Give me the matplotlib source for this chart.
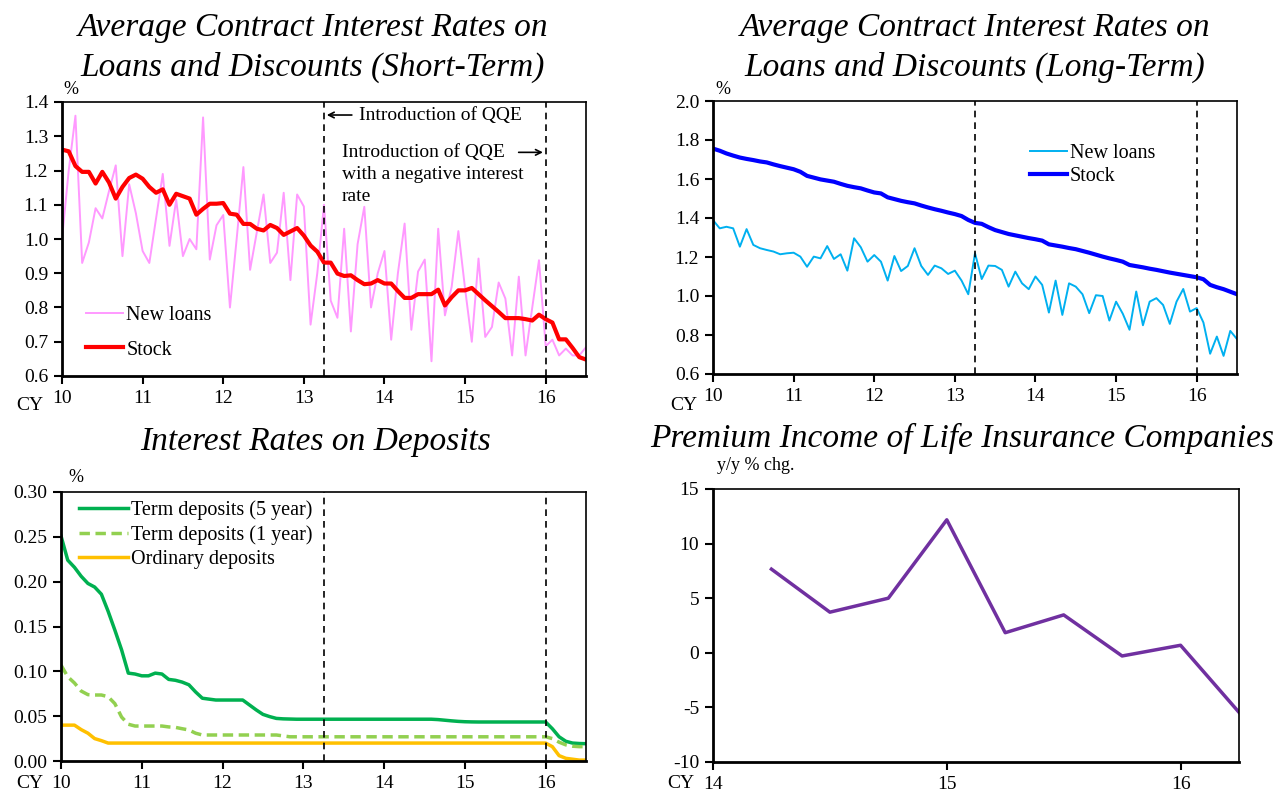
import matplotlib
matplotlib.use("Agg")
import matplotlib.pyplot as plt
import numpy as np

plt.rcParams['font.family'] = ['Liberation Serif', 'DejaVu Serif']
plt.rcParams['axes.unicode_minus'] = False

# ---------------- data ----------------
# monthly, Jan 2010 (CY10) .. Jul 2016
months = [10 + i / 12 for i in range(79)]

short_new = [1.00, 1.20, 1.36, 0.93, 0.99, 1.09, 1.06, 1.14, 1.215, 0.95,
             1.16, 1.075, 0.965, 0.93, 1.06, 1.19, 0.98, 1.115, 0.95, 1.00,
             0.97, 1.355, 0.94, 1.04, 1.07, 0.80, 1.00, 1.21, 0.91, 1.02,
             1.13, 0.93, 0.96, 1.135, 0.88, 1.13, 1.095, 0.75, 0.90, 1.10,
             0.82, 0.77, 1.03, 0.73, 0.985, 1.094, 0.80, 0.90, 0.965, 0.706,
             0.90, 1.045, 0.735, 0.905, 0.94, 0.643, 1.03, 0.777, 0.86, 1.023,
             0.855, 0.70, 0.943, 0.714, 0.743, 0.873, 0.826, 0.66, 0.89, 0.66,
             0.80, 0.938, 0.687, 0.706, 0.66, 0.68, 0.66, 0.66, 0.684]
short_stock = [1.261, 1.256, 1.213, 1.196, 1.196, 1.162, 1.196, 1.165, 1.118, 1.152,
               1.178, 1.188, 1.176, 1.152, 1.135, 1.145, 1.10, 1.132, 1.125, 1.118,
               1.071, 1.088, 1.103, 1.103, 1.105, 1.074, 1.071, 1.044, 1.044, 1.03,
               1.025, 1.041, 1.032, 1.012, 1.022, 1.032, 1.01, 0.981, 0.963, 0.931,
               0.931, 0.899, 0.892, 0.894, 0.88, 0.868, 0.87, 0.88, 0.87, 0.87,
               0.848, 0.828, 0.828, 0.839, 0.839, 0.839, 0.852, 0.806, 0.83, 0.85,
               0.85, 0.857, 0.839, 0.821, 0.804, 0.787, 0.769, 0.769, 0.769, 0.766,
               0.762, 0.779, 0.766, 0.756, 0.707, 0.707, 0.682, 0.655, 0.648]

long_new = [1.389, 1.347, 1.355, 1.347, 1.253, 1.343, 1.262, 1.245, 1.236, 1.228,
            1.214, 1.219, 1.222, 1.202, 1.150, 1.202, 1.193, 1.256, 1.19, 1.214,
            1.13, 1.296, 1.25, 1.176, 1.21, 1.176, 1.079, 1.205, 1.128, 1.154,
            1.245, 1.154, 1.108, 1.156, 1.142, 1.113, 1.13, 1.079, 1.009, 1.219,
            1.087, 1.156, 1.154, 1.134, 1.048, 1.125, 1.065, 1.035, 1.10, 1.057,
            0.915, 1.079, 0.903, 1.065, 1.048, 1.009, 0.912, 1.004, 1.0, 0.874,
            0.971, 0.909, 0.827, 1.023, 0.85, 0.971, 0.989, 0.954, 0.857, 0.971,
            1.036, 0.92, 0.938, 0.864, 0.704, 0.792, 0.693, 0.821, 0.779]
long_stock = [1.756, 1.745, 1.731, 1.72, 1.71, 1.703, 1.697, 1.69, 1.685, 1.675,
              1.666, 1.658, 1.65, 1.637, 1.616, 1.607, 1.598, 1.592, 1.586, 1.575,
              1.565, 1.558, 1.552, 1.541, 1.531, 1.526, 1.506, 1.497, 1.488, 1.481,
              1.475, 1.464, 1.454, 1.445, 1.437, 1.428, 1.42, 1.41, 1.39, 1.375,
              1.37, 1.353, 1.338, 1.328, 1.318, 1.311, 1.304, 1.297, 1.291, 1.284,
              1.265, 1.259, 1.253, 1.246, 1.24, 1.231, 1.222, 1.212, 1.202, 1.193,
              1.185, 1.176, 1.159, 1.153, 1.147, 1.14, 1.134, 1.127, 1.12, 1.114,
              1.108, 1.102, 1.096, 1.086, 1.057, 1.045, 1.035, 1.022, 1.009]

dep_5y = [0.251, 0.224, 0.216, 0.206, 0.198, 0.194, 0.186, 0.167, 0.146, 0.124,
          0.098, 0.097, 0.095, 0.095, 0.098, 0.097, 0.091, 0.090, 0.088, 0.085,
          0.077, 0.070, 0.069, 0.068, 0.068, 0.068, 0.068, 0.068, 0.0625, 0.057,
          0.052, 0.0495, 0.0475, 0.047, 0.0468, 0.0466, 0.0466, 0.0466, 0.0466, 0.0466,
          0.0466, 0.0466, 0.0466, 0.0466, 0.0466, 0.0466, 0.0466, 0.0466, 0.0466, 0.0466,
          0.0466, 0.0466, 0.0466, 0.0466, 0.0466, 0.0466, 0.0462, 0.0455, 0.0448, 0.0442,
          0.0438, 0.0436, 0.0435, 0.0435, 0.0435, 0.0435, 0.0435, 0.0435, 0.0435, 0.0435,
          0.0435, 0.0435, 0.0435, 0.036, 0.027, 0.022, 0.020, 0.0195, 0.0193]
dep_1y = [0.107, 0.094, 0.087, 0.078, 0.074, 0.0736, 0.0736, 0.0717, 0.064, 0.049,
          0.041, 0.039, 0.039, 0.039, 0.039, 0.039, 0.038, 0.0375, 0.036, 0.0346,
          0.031, 0.029, 0.029, 0.029, 0.029, 0.029, 0.029, 0.029, 0.029, 0.029,
          0.029, 0.029, 0.029, 0.028, 0.027, 0.027, 0.027, 0.027, 0.027, 0.027,
          0.027, 0.027, 0.027, 0.027, 0.027, 0.027, 0.027, 0.027, 0.027, 0.027,
          0.027, 0.027, 0.027, 0.027, 0.027, 0.027, 0.027, 0.027, 0.027, 0.027,
          0.027, 0.027, 0.027, 0.027, 0.027, 0.027, 0.027, 0.027, 0.027, 0.027,
          0.027, 0.027, 0.027, 0.025, 0.021, 0.018, 0.0165, 0.016, 0.016]
dep_ord = [0.040, 0.040, 0.040, 0.035, 0.031, 0.025, 0.0227, 0.020, 0.020, 0.020,
           0.020, 0.020, 0.020, 0.020, 0.020, 0.020, 0.020, 0.020, 0.020, 0.020,
           0.020, 0.020, 0.020, 0.020, 0.020, 0.020, 0.020, 0.020, 0.020, 0.020,
           0.020, 0.020, 0.020, 0.020, 0.020, 0.020, 0.020, 0.020, 0.020, 0.020,
           0.020, 0.020, 0.020, 0.020, 0.020, 0.020, 0.020, 0.020, 0.020, 0.020,
           0.020, 0.020, 0.020, 0.020, 0.020, 0.020, 0.020, 0.020, 0.020, 0.020,
           0.020, 0.020, 0.020, 0.020, 0.020, 0.020, 0.020, 0.020, 0.020, 0.020,
           0.020, 0.020, 0.020, 0.016, 0.006, 0.003, 0.002, 0.001, 0.001]

prem_x = [14.25, 14.5, 14.75, 15.0, 15.25, 15.5, 15.75, 16.0, 16.25]
prem_y = [7.66, 3.72, 5.0, 12.18, 1.84, 3.47, -0.29, 0.69, -5.45]

year_ticks = [10, 11, 12, 13, 14, 15, 16]
prem_ticks = [14, 15, 16]
qqe_dates = [13.25, 16.0]

# ---------------- figure ----------------
W, H = 1274, 794
fig = plt.figure(figsize=(W / 100, H / 100), dpi=100)


def px_axes(l, t, r, b):
    return fig.add_axes([l / W, 1 - b / H, (r - l) / W, (b - t) / H])


def style(ax):
    for s in ['left', 'bottom']:
        ax.spines[s].set_linewidth(2.0)
    for s in ['top', 'right']:
        ax.spines[s].set_linewidth(1.2)
    ax.tick_params(axis='both', direction='out', length=6, width=1.5,
                   labelsize=14, pad=4)


def ftext(x, y, s, **kw):
    fig.text(x / W, 1 - y / H, s, **kw)


TFS = 24
title_kw = dict(ha='center', va='center', fontsize=TFS, style='italic')
AFS = 14

# --- top left ---
ax1 = px_axes(62, 102, 586, 376)
ax1.plot(months, short_new, color='#FF99FF', lw=1.4, label='New loans')
ax1.plot(months, short_stock, color='#FF0000', lw=3.0, label='Stock')
for d in qqe_dates:
    ax1.axvline(d, color='black', ls=(0, (4, 3)), lw=1.2)
ax1.set_xlim(10, 16.5)
ax1.set_ylim(0.6, 1.4)
ax1.set_xticks(year_ticks)
ax1.set_yticks(np.arange(0.6, 1.41, 0.1))
ax1.yaxis.set_major_formatter(matplotlib.ticker.FormatStrFormatter('%.1f'))
style(ax1)
ax1.legend(loc='lower left', bbox_to_anchor=(0.011, -0.006), frameon=False,
           fontsize=14.5, handlelength=1.85, handletextpad=0.15, labelspacing=0.75)
ax1.annotate('', xy=(13.25, 1.362), xytext=(13.63, 1.362),
             arrowprops=dict(arrowstyle='->', color='black', lw=1.2))
ax1.text(13.68, 1.362, 'Introduction of QQE', fontsize=AFS, va='center')
ax1.annotate('', xy=(16.0, 1.253), xytext=(15.63, 1.253),
             arrowprops=dict(arrowstyle='->', color='black', lw=1.2))
ax1.text(13.47, 1.253, 'Introduction of QQE', fontsize=AFS, va='center')
ax1.text(13.47, 1.189, 'with a negative interest', fontsize=AFS, va='center')
ax1.text(13.47, 1.125, 'rate', fontsize=AFS, va='center')
ftext(313, 28, 'Average Contract Interest Rates on', **title_kw)
ftext(313, 67, 'Loans and Discounts (Short-Term)', **title_kw)
ftext(63, 90, '%', fontsize=13, ha='left', va='center')
ftext(30, 405, 'CY', fontsize=14, ha='center', va='center')

# --- top right ---
ax2 = px_axes(713, 101, 1237, 374)
ax2.plot(months, long_new, color='#00B0F0', lw=1.4, label='New loans')
ax2.plot(months, long_stock, color='#0000FF', lw=3.0, label='Stock')
for d in qqe_dates:
    ax2.axvline(d, color='black', ls=(0, (4, 3)), lw=1.2)
ax2.set_xlim(10, 16.5)
ax2.set_ylim(0.6, 2.0)
ax2.set_xticks(year_ticks)
ax2.set_yticks(np.arange(0.6, 2.01, 0.2))
ax2.yaxis.set_major_formatter(matplotlib.ticker.FormatStrFormatter('%.1f'))
style(ax2)
ax2.legend(loc='upper left', bbox_to_anchor=(0.57, 0.91), frameon=False,
           fontsize=14.5, handlelength=1.85, handletextpad=0.15, labelspacing=0.2)
ftext(975, 28, 'Average Contract Interest Rates on', **title_kw)
ftext(975, 67, 'Loans and Discounts (Long-Term)', **title_kw)
ftext(715, 90, '%', fontsize=13, ha='left', va='center')
ftext(684, 405, 'CY', fontsize=14, ha='center', va='center')

# --- bottom left ---
ax3 = px_axes(61, 492, 586, 761)
ax3.plot(months, dep_5y, color='#00B050', lw=2.5, label='Term deposits (5 year)')
ax3.plot(months, dep_1y, color='#92D050', lw=2.5, ls=(0, (3, 1.6)),
         label='Term deposits (1 year)')
ax3.plot(months, dep_ord, color='#FFC000', lw=2.5, label='Ordinary deposits')
for d in qqe_dates:
    ax3.axvline(d, color='black', ls=(0, (4, 3)), lw=1.2)
ax3.set_xlim(10, 16.5)
ax3.set_ylim(0, 0.30)
ax3.set_xticks(year_ticks)
ax3.set_yticks(np.arange(0, 0.301, 0.05))
ax3.yaxis.set_major_formatter(matplotlib.ticker.FormatStrFormatter('%.2f'))
style(ax3)
ax3.legend(loc='upper left', bbox_to_anchor=(0.0, 1.035), frameon=False,
           fontsize=14.5, handlelength=2.45, handletextpad=0.15, labelspacing=0.25)
ftext(316, 442, 'Interest Rates on Deposits', **title_kw)
ftext(68, 477, '%', fontsize=13, ha='left', va='center')
ftext(30, 784, 'CY', fontsize=14, ha='center', va='center')

# --- bottom right ---
ax4 = px_axes(713, 489, 1239, 762)
ax4.plot(prem_x, prem_y, color='#7030A0', lw=2.5)
ax4.set_xlim(14, 16.25)
ax4.set_ylim(-10, 15)
ax4.set_xticks(prem_ticks)
ax4.set_yticks(np.arange(-10, 16, 5))
style(ax4)
ftext(962, 438, 'Premium Income of Life Insurance Companies', **title_kw)
ftext(717, 466, 'y/y % chg.', fontsize=13, ha='left', va='center')
ftext(681, 784, 'CY', fontsize=14, ha='center', va='center')

fig.savefig('out.png', dpi=100)
